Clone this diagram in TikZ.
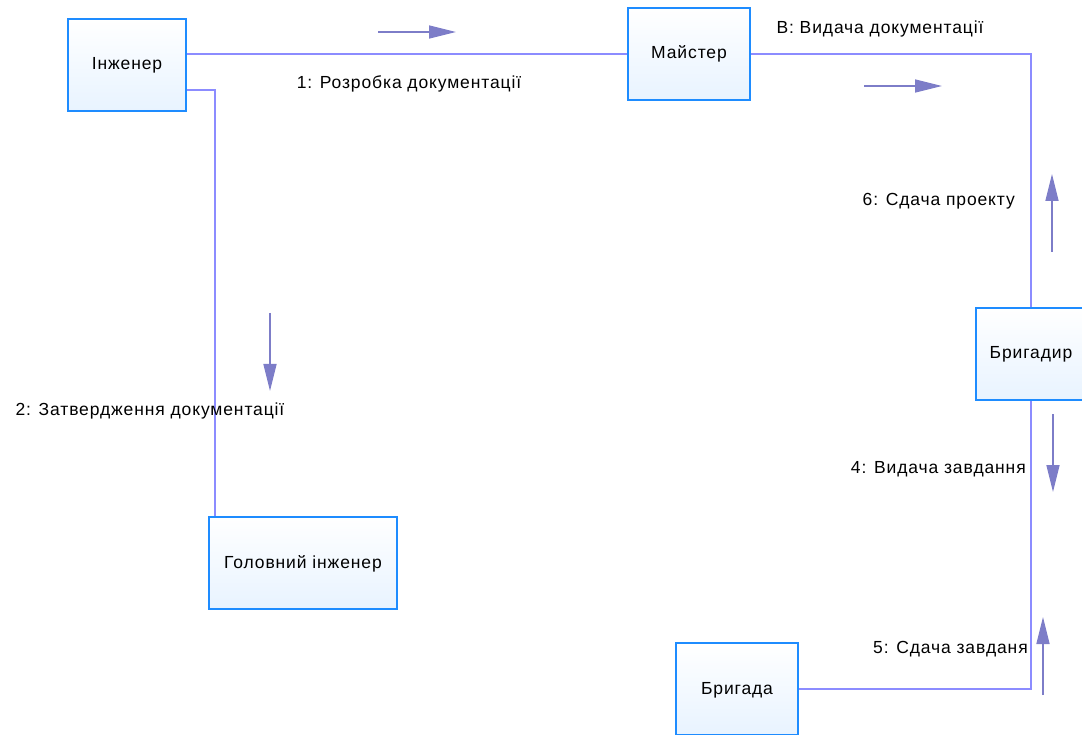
\documentclass[tikz,border=0pt]{standalone}
\usepackage{fontspec}
\setmainfont[LetterSpace=5]{Liberation Sans}
\usetikzlibrary{arrows.meta}
\definecolor{boxline}{RGB}{30,140,255}
\definecolor{boxfill}{RGB}{232,243,255}
\definecolor{linkcol}{RGB}{140,140,255}
\definecolor{msgcol}{RGB}{125,125,200}
\tikzset{
  obj/.style={draw=boxline, line width=1.6pt, top color=white, bottom color=boxfill,
    minimum height=92pt, inner sep=0pt, text height=12pt, text depth=2pt,
    font=\fontsize{17.5}{20}\selectfont},
  link/.style={draw=linkcol, line width=1.6pt},
  msg/.style={draw=msgcol, line width=1.6pt, -{Triangle[length=27pt,width=13pt]}},
  lbl/.style={inner sep=0pt, text height=12pt, text depth=2pt,
    font=\fontsize{17.5}{20}\selectfont}
}
\begin{document}
\begin{tikzpicture}[x=1pt,y=-1pt]
  \useasboundingbox (0,0) rectangle (1082,735);
  \clip (0,0) rectangle (1082,735);

  % objects
  \node[obj, minimum width=118pt] (inzh) at (127,65) {Інженер};
  \node[obj, minimum width=122pt] (maister) at (689,54) {Майстер};
  \node[obj, minimum width=110pt] (brygadyr) at (1031,354) {Бригадир};
  \node[obj, minimum width=188pt] (golov) at (303,563) {Головний інженер};
  \node[obj, minimum width=122pt] (bryhada) at (737,689) {Бригада};

  % links
  \draw[link] (inzh.east |- maister.west) -- (maister.west);
  \draw[link] ([yshift=-25pt]inzh.east) -| ([xshift=7pt]golov.north west);
  \draw[link] (maister.east) -| (brygadyr.north);
  \draw[link] (brygadyr.south) |- (bryhada.east);

  % messages
  \coordinate (m1a) at (378,32);  \coordinate (m1b) at (456,32);
  \coordinate (m2a) at (270,313); \coordinate (m2b) at (270,391);
  \coordinate (m3a) at (864,86);  \coordinate (m3b) at (942,86);
  \coordinate (m4a) at (1053,414); \coordinate (m4b) at (1053,492);
  \coordinate (m5a) at (1043,695); \coordinate (m5b) at (1043,617);
  \coordinate (m6a) at (1052,252); \coordinate (m6b) at (1052,174);
  \foreach \m in {1,...,6}
    \draw[msg] (m\m a) -- (m\m b);

  \node[lbl] (l1) at (409,84) {1: Розробка документації};
  \node[lbl] (l2) at (150,410) {2: Затвердження документації};
  \node[lbl] (l3) at (880,29) {B: Видача документації};
  \node[lbl, anchor=east] (l4) at (1026,468) {4: Видача завдання};
  \node[lbl, anchor=east] (l5) at (1028,648) {5: Сдача завданя};
  \node[lbl, anchor=east] (l6) at (1015,201) {6: Сдача проекту};
\end{tikzpicture}
\end{document}
